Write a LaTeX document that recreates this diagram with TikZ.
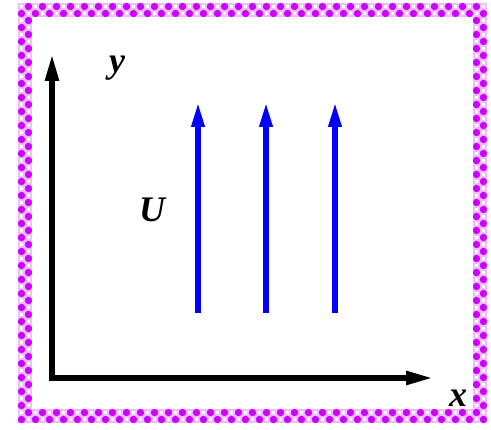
\documentclass[tikz,border=0pt]{standalone}
\usepackage{fontspec}
\setmainfont{Liberation Serif}
\usetikzlibrary{arrows.meta}
\definecolor{bordmag}{RGB}{204,0,255}
\definecolor{bordlt}{RGB}{240,190,255}
\begin{document}
\begin{tikzpicture}[x=1pt,y=1pt,
  axis/.style={line width=5.5pt,-{Triangle[length=27pt,width=13pt]}},
  flow/.style={blue,line width=6pt,-{Triangle[length=26pt,width=12pt]}},
  lbl/.style={font=\fontsize{36}{38}\selectfont\bfseries\itshape,inner sep=0pt}]
\useasboundingbox (0,0) rectangle (491,430);
\fill[white] (0,0) rectangle (491,430);
% checkered border band
\fill[bordlt] (18,7) rectangle (487,427);
\foreach \i in {0,...,66}{
  \foreach \j in {0,1,58,59}{
    \pgfmathtruncatemacro\cpar{mod(\i+\j,2)}
    \ifnum\cpar=0
      \fill[bordmag] (18+3.5+7*\i,7+3.5+7*\j) circle (3.7);
    \else
      \fill[white] (18+1.8+7*\i,7+1.8+7*\j) rectangle ++(3.4,3.4);
    \fi
  }
}
\foreach \j in {2,...,57}{
  \foreach \i in {0,1,65,66}{
    \pgfmathtruncatemacro\cpar{mod(\i+\j,2)}
    \ifnum\cpar=0
      \fill[bordmag] (18+3.5+7*\i,7+3.5+7*\j) circle (3.7);
    \else
      \fill[white] (18+1.8+7*\i,7+1.8+7*\j) rectangle ++(3.4,3.4);
    \fi
  }
}
\fill[white] (32,21) rectangle (473,413);
% axes
\coordinate (O) at (52,52);
\coordinate (Y) at (52,376);
\coordinate (X) at (433,52);
\draw[axis] ([yshift=-2.75pt]O) -- (Y);
\draw[axis] ([xshift=-2.75pt]O) -- (X);
% flow arrows
\foreach \n/\xx in {a/198,b/266,c/335}{
  \coordinate (s\n) at (\xx,117);
  \coordinate (e\n) at (\xx,329);
  \draw[flow] (s\n) -- (e\n);
}
\node[lbl] (ly) at (117,362) {y};
\node[lbl] (lu) at (152,220) {U};
\node[lbl] (lx) at (458,32) {x};
\end{tikzpicture}
\end{document}
